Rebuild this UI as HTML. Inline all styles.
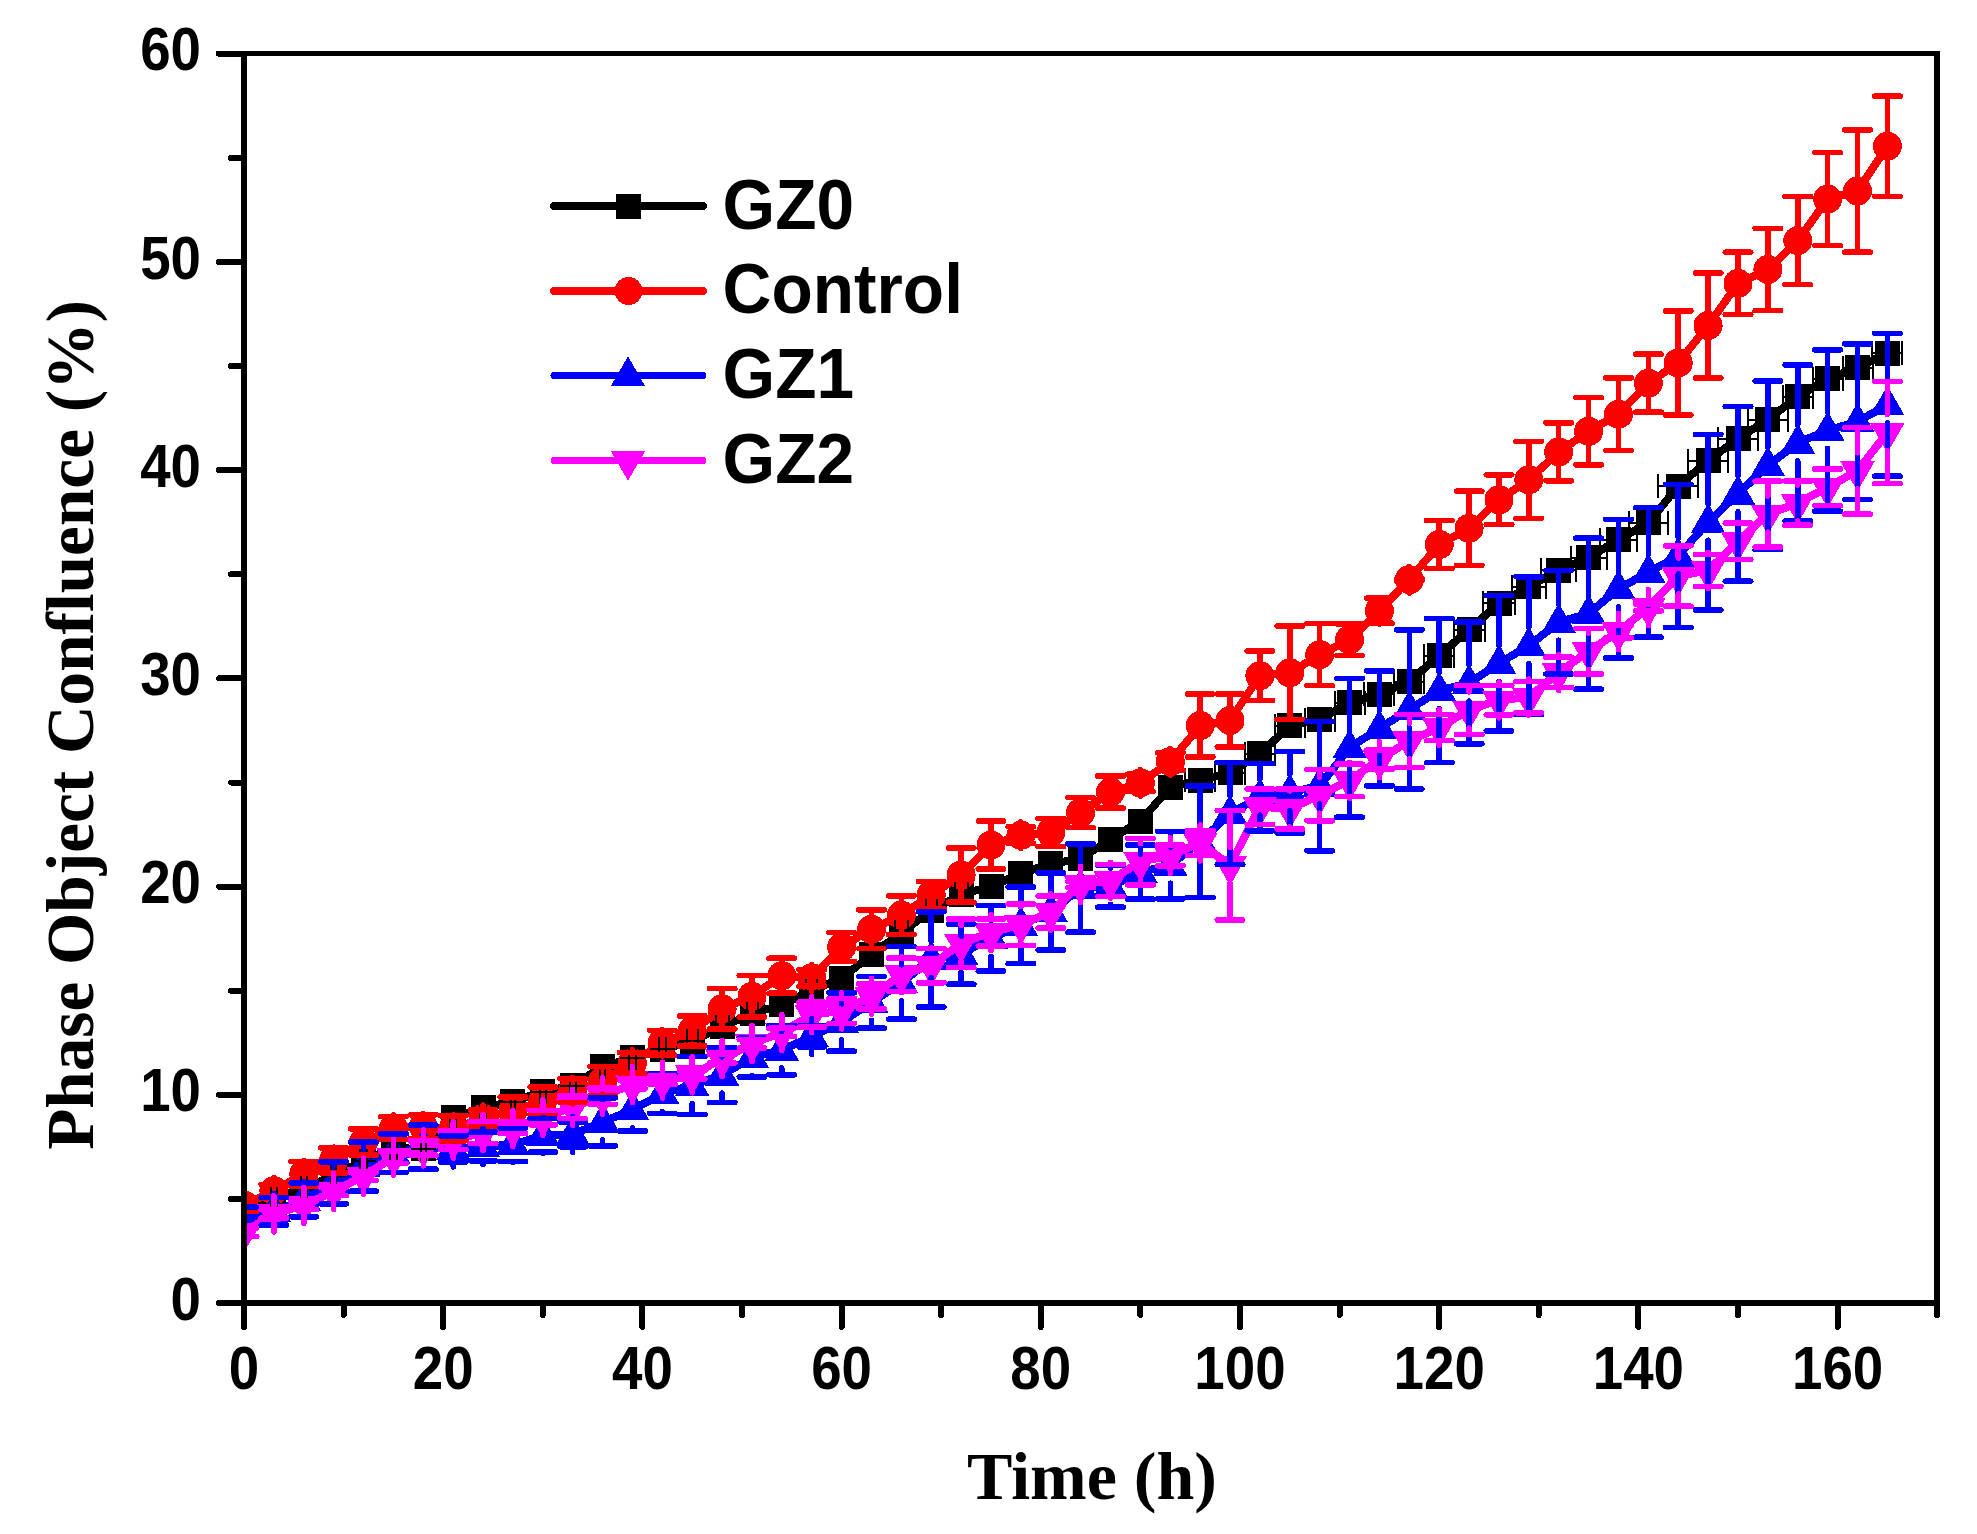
<!DOCTYPE html>
<html lang="en"><head><meta charset="utf-8"><title>Phase Object Confluence vs Time</title>
<style>html,body{margin:0;padding:0;background:#fff}body{width:1977px;height:1534px;overflow:hidden}svg{display:block}.tk{font:bold 60.4px "Liberation Sans",Arial,sans-serif;fill:#000}.lg{font:bold 70px "Liberation Sans",Arial,sans-serif;fill:#000}.ax{font:bold 68px "Liberation Serif","Times New Roman",serif;fill:#000}</style></head><body>
<svg width="1977" height="1534" viewBox="0 0 1977 1534" shape-rendering="crispEdges">
<rect width="1977" height="1534" fill="#fff"/>
<defs><clipPath id="c"><rect x="244" y="54" width="1693.5" height="1249"/></clipPath></defs>
<g clip-path="url(#c)" fill="none" stroke-linejoin="round" stroke-linecap="round">
<path d="M244 1209.3 L273.9 1198.9 L303.8 1188.1 L333.6 1175.8 L363.5 1160.6 L393.4 1148.1 L423.3 1148.9 L453.2 1117.7 L483 1107.7 L512.9 1101.7 L542.8 1091.5 L572.7 1085.6 L602.6 1066.5 L632.4 1057.7 L662.3 1049.4 L692.2 1041.1 L722.1 1026.7 L752 1013.8 L781.8 1004.6 L811.7 990.7 L841.6 978.2 L871.5 954.7 L901.4 932.4 L931.2 910.8 L961.1 894.1 L991 886.6 L1020.9 873.5 L1050.8 863.7 L1080.6 858.9 L1110.5 839.1 L1140.4 821.2 L1170.3 787.1 L1200.2 780.4 L1230 772.9 L1259.9 753.8 L1289.8 725.7 L1319.7 719.6 L1349.6 702.6 L1379.4 694.2 L1409.3 681.5 L1439.2 655.5 L1469.1 629.5 L1499 603.4 L1528.8 586.8 L1558.7 570.1 L1588.6 557.6 L1618.5 539.7 L1648.4 522.7 L1678.2 486.2 L1708.1 460.6 L1738 438.6 L1767.9 419.6 L1797.8 396.5 L1827.6 378.6 L1857.5 367.6 L1887.4 353.2" stroke="#000" stroke-width="8"/>
<path d="M231.5 1196.8h25v25h-25zM261.4 1186.4h25v25h-25zM291.3 1175.6h25v25h-25zM321.1 1163.3h25v25h-25zM351 1148.1h25v25h-25zM380.9 1135.6h25v25h-25zM410.8 1136.4h25v25h-25zM440.7 1105.2h25v25h-25zM470.5 1095.2h25v25h-25zM500.4 1089.2h25v25h-25zM530.3 1079h25v25h-25zM560.2 1073.1h25v25h-25zM590.1 1054h25v25h-25zM619.9 1045.2h25v25h-25zM649.8 1036.9h25v25h-25zM679.7 1028.6h25v25h-25zM709.6 1014.2h25v25h-25zM739.5 1001.3h25v25h-25zM769.3 992.1h25v25h-25zM799.2 978.2h25v25h-25zM829.1 965.7h25v25h-25zM859 942.2h25v25h-25zM888.9 919.9h25v25h-25zM918.7 898.3h25v25h-25zM948.6 881.6h25v25h-25zM978.5 874.1h25v25h-25zM1008.4 861h25v25h-25zM1038.3 851.2h25v25h-25zM1068.1 846.4h25v25h-25zM1098 826.6h25v25h-25zM1127.9 808.7h25v25h-25zM1157.8 774.6h25v25h-25zM1187.7 767.9h25v25h-25zM1217.5 760.4h25v25h-25zM1247.4 741.3h25v25h-25zM1277.3 713.2h25v25h-25zM1307.2 707.1h25v25h-25zM1337.1 690.1h25v25h-25zM1366.9 681.7h25v25h-25zM1396.8 669h25v25h-25zM1426.7 643h25v25h-25zM1456.6 617h25v25h-25zM1486.5 590.9h25v25h-25zM1516.3 574.3h25v25h-25zM1546.2 557.6h25v25h-25zM1576.1 545.1h25v25h-25zM1606 527.2h25v25h-25zM1635.9 510.2h25v25h-25zM1665.7 473.7h25v25h-25zM1695.6 448.1h25v25h-25zM1725.5 426.1h25v25h-25zM1755.4 407.1h25v25h-25zM1785.3 384h25v25h-25zM1815.1 366.1h25v25h-25zM1845 355.1h25v25h-25zM1874.9 340.7h25v25h-25z" fill="#000"/>
<path d="M244 1205.1 L273.9 1190.6 L303.8 1173.9 L333.6 1160.4 L363.5 1142.1 L393.4 1128.1 L423.3 1126.7 L453.2 1128.3 L483 1118.3 L512.9 1111 L542.8 1100.6 L572.7 1090.6 L602.6 1080.9 L632.4 1062.9 L662.3 1042.8 L692.2 1030.9 L722.1 1008.8 L752 996.3 L781.8 975.7 L811.7 977.8 L841.6 947 L871.5 929.3 L901.4 915.1 L931.2 894.9 L961.1 875.1 L991 845 L1020.9 835.2 L1050.8 832.5 L1080.6 812.7 L1110.5 792.1 L1140.4 782.9 L1170.3 761.7 L1200.2 725.5 L1230 720.5 L1259.9 675.7 L1289.8 672.8 L1319.7 654.7 L1349.6 639.7 L1379.4 610.7 L1409.3 579.7 L1439.2 544.5 L1469.1 528.3 L1499 499.8 L1528.8 479.8 L1558.7 451.9 L1588.6 431.3 L1618.5 414.2 L1648.4 383.2 L1678.2 363 L1708.1 325.5 L1738 283.4 L1767.9 269.5 L1797.8 240.6 L1827.6 199.1 L1857.5 191 L1887.4 146.2" stroke="#f00" stroke-width="8"/>
<path d="M229.5 1205.1a14.5 14.5 0 1 0 29.0 0a14.5 14.5 0 1 0 -29.0 0zM259.4 1190.6a14.5 14.5 0 1 0 29.0 0a14.5 14.5 0 1 0 -29.0 0zM289.3 1173.9a14.5 14.5 0 1 0 29.0 0a14.5 14.5 0 1 0 -29.0 0zM319.1 1160.4a14.5 14.5 0 1 0 29.0 0a14.5 14.5 0 1 0 -29.0 0zM349 1142.1a14.5 14.5 0 1 0 29.0 0a14.5 14.5 0 1 0 -29.0 0zM378.9 1128.1a14.5 14.5 0 1 0 29.0 0a14.5 14.5 0 1 0 -29.0 0zM408.8 1126.7a14.5 14.5 0 1 0 29.0 0a14.5 14.5 0 1 0 -29.0 0zM438.7 1128.3a14.5 14.5 0 1 0 29.0 0a14.5 14.5 0 1 0 -29.0 0zM468.5 1118.3a14.5 14.5 0 1 0 29.0 0a14.5 14.5 0 1 0 -29.0 0zM498.4 1111a14.5 14.5 0 1 0 29.0 0a14.5 14.5 0 1 0 -29.0 0zM528.3 1100.6a14.5 14.5 0 1 0 29.0 0a14.5 14.5 0 1 0 -29.0 0zM558.2 1090.6a14.5 14.5 0 1 0 29.0 0a14.5 14.5 0 1 0 -29.0 0zM588.1 1080.9a14.5 14.5 0 1 0 29.0 0a14.5 14.5 0 1 0 -29.0 0zM617.9 1062.9a14.5 14.5 0 1 0 29.0 0a14.5 14.5 0 1 0 -29.0 0zM647.8 1042.8a14.5 14.5 0 1 0 29.0 0a14.5 14.5 0 1 0 -29.0 0zM677.7 1030.9a14.5 14.5 0 1 0 29.0 0a14.5 14.5 0 1 0 -29.0 0zM707.6 1008.8a14.5 14.5 0 1 0 29.0 0a14.5 14.5 0 1 0 -29.0 0zM737.5 996.3a14.5 14.5 0 1 0 29.0 0a14.5 14.5 0 1 0 -29.0 0zM767.3 975.7a14.5 14.5 0 1 0 29.0 0a14.5 14.5 0 1 0 -29.0 0zM797.2 977.8a14.5 14.5 0 1 0 29.0 0a14.5 14.5 0 1 0 -29.0 0zM827.1 947a14.5 14.5 0 1 0 29.0 0a14.5 14.5 0 1 0 -29.0 0zM857 929.3a14.5 14.5 0 1 0 29.0 0a14.5 14.5 0 1 0 -29.0 0zM886.9 915.1a14.5 14.5 0 1 0 29.0 0a14.5 14.5 0 1 0 -29.0 0zM916.7 894.9a14.5 14.5 0 1 0 29.0 0a14.5 14.5 0 1 0 -29.0 0zM946.6 875.1a14.5 14.5 0 1 0 29.0 0a14.5 14.5 0 1 0 -29.0 0zM976.5 845a14.5 14.5 0 1 0 29.0 0a14.5 14.5 0 1 0 -29.0 0zM1006.4 835.2a14.5 14.5 0 1 0 29.0 0a14.5 14.5 0 1 0 -29.0 0zM1036.3 832.5a14.5 14.5 0 1 0 29.0 0a14.5 14.5 0 1 0 -29.0 0zM1066.1 812.7a14.5 14.5 0 1 0 29.0 0a14.5 14.5 0 1 0 -29.0 0zM1096 792.1a14.5 14.5 0 1 0 29.0 0a14.5 14.5 0 1 0 -29.0 0zM1125.9 782.9a14.5 14.5 0 1 0 29.0 0a14.5 14.5 0 1 0 -29.0 0zM1155.8 761.7a14.5 14.5 0 1 0 29.0 0a14.5 14.5 0 1 0 -29.0 0zM1185.7 725.5a14.5 14.5 0 1 0 29.0 0a14.5 14.5 0 1 0 -29.0 0zM1215.5 720.5a14.5 14.5 0 1 0 29.0 0a14.5 14.5 0 1 0 -29.0 0zM1245.4 675.7a14.5 14.5 0 1 0 29.0 0a14.5 14.5 0 1 0 -29.0 0zM1275.3 672.8a14.5 14.5 0 1 0 29.0 0a14.5 14.5 0 1 0 -29.0 0zM1305.2 654.7a14.5 14.5 0 1 0 29.0 0a14.5 14.5 0 1 0 -29.0 0zM1335.1 639.7a14.5 14.5 0 1 0 29.0 0a14.5 14.5 0 1 0 -29.0 0zM1364.9 610.7a14.5 14.5 0 1 0 29.0 0a14.5 14.5 0 1 0 -29.0 0zM1394.8 579.7a14.5 14.5 0 1 0 29.0 0a14.5 14.5 0 1 0 -29.0 0zM1424.7 544.5a14.5 14.5 0 1 0 29.0 0a14.5 14.5 0 1 0 -29.0 0zM1454.6 528.3a14.5 14.5 0 1 0 29.0 0a14.5 14.5 0 1 0 -29.0 0zM1484.5 499.8a14.5 14.5 0 1 0 29.0 0a14.5 14.5 0 1 0 -29.0 0zM1514.3 479.8a14.5 14.5 0 1 0 29.0 0a14.5 14.5 0 1 0 -29.0 0zM1544.2 451.9a14.5 14.5 0 1 0 29.0 0a14.5 14.5 0 1 0 -29.0 0zM1574.1 431.3a14.5 14.5 0 1 0 29.0 0a14.5 14.5 0 1 0 -29.0 0zM1604 414.2a14.5 14.5 0 1 0 29.0 0a14.5 14.5 0 1 0 -29.0 0zM1633.9 383.2a14.5 14.5 0 1 0 29.0 0a14.5 14.5 0 1 0 -29.0 0zM1663.7 363a14.5 14.5 0 1 0 29.0 0a14.5 14.5 0 1 0 -29.0 0zM1693.6 325.5a14.5 14.5 0 1 0 29.0 0a14.5 14.5 0 1 0 -29.0 0zM1723.5 283.4a14.5 14.5 0 1 0 29.0 0a14.5 14.5 0 1 0 -29.0 0zM1753.4 269.5a14.5 14.5 0 1 0 29.0 0a14.5 14.5 0 1 0 -29.0 0zM1783.3 240.6a14.5 14.5 0 1 0 29.0 0a14.5 14.5 0 1 0 -29.0 0zM1813.1 199.1a14.5 14.5 0 1 0 29.0 0a14.5 14.5 0 1 0 -29.0 0zM1843 191a14.5 14.5 0 1 0 29.0 0a14.5 14.5 0 1 0 -29.0 0zM1872.9 146.2a14.5 14.5 0 1 0 29.0 0a14.5 14.5 0 1 0 -29.0 0z" fill="#f00"/>
<path d="M244 1217.6 L273.9 1211.4 L303.8 1199.9 L333.6 1182.9 L363.5 1166.6 L393.4 1153.3 L423.3 1147.1 L453.2 1148.9 L483 1146.4 L512.9 1144.8 L542.8 1135.4 L572.7 1134.4 L602.6 1121.9 L632.4 1109.8 L662.3 1093.6 L692.2 1085.4 L722.1 1075 L752 1057.3 L781.8 1050 L811.7 1036.5 L841.6 1021.9 L871.5 1002.4 L901.4 982.8 L931.2 959.5 L961.1 954.1 L991 938.2 L1020.9 925.3 L1050.8 911.6 L1080.6 888.1 L1110.5 886.4 L1140.4 872 L1170.3 865.2 L1200.2 841.8 L1230 813.5 L1259.9 797.1 L1289.8 792.3 L1319.7 786 L1349.6 747.7 L1379.4 728.4 L1409.3 709.4 L1439.2 690.7 L1469.1 683 L1499 663.2 L1528.8 645.7 L1558.7 622.2 L1588.6 613.6 L1618.5 588.7 L1648.4 572.4 L1678.2 556 L1708.1 522.2 L1738 493.9 L1767.9 465.4 L1797.8 442.9 L1827.6 430.4 L1857.5 421.7 L1887.4 404.8" stroke="#00f" stroke-width="8"/>
<path d="M244 1198.4L261.2 1228.2L226.8 1228.2zM273.9 1192.2L291.1 1222L256.7 1222zM303.8 1180.7L321 1210.5L286.6 1210.5zM333.6 1163.7L350.8 1193.5L316.4 1193.5zM363.5 1147.4L380.7 1177.2L346.3 1177.2zM393.4 1134.1L410.6 1163.9L376.2 1163.9zM423.3 1127.9L440.5 1157.7L406.1 1157.7zM453.2 1129.7L470.4 1159.5L436 1159.5zM483 1127.2L500.2 1157L465.8 1157zM512.9 1125.6L530.1 1155.4L495.7 1155.4zM542.8 1116.2L560 1146L525.6 1146zM572.7 1115.2L589.9 1145L555.5 1145zM602.6 1102.7L619.8 1132.5L585.4 1132.5zM632.4 1090.6L649.6 1120.4L615.2 1120.4zM662.3 1074.4L679.5 1104.2L645.1 1104.2zM692.2 1066.2L709.4 1096L675 1096zM722.1 1055.8L739.3 1085.6L704.9 1085.6zM752 1038.1L769.2 1067.9L734.8 1067.9zM781.8 1030.8L799 1060.6L764.6 1060.6zM811.7 1017.3L828.9 1047.1L794.5 1047.1zM841.6 1002.7L858.8 1032.5L824.4 1032.5zM871.5 983.2L888.7 1013L854.3 1013zM901.4 963.6L918.6 993.4L884.2 993.4zM931.2 940.3L948.4 970.1L914 970.1zM961.1 934.9L978.3 964.7L943.9 964.7zM991 919L1008.2 948.8L973.8 948.8zM1020.9 906.1L1038.1 935.9L1003.7 935.9zM1050.8 892.4L1068 922.2L1033.6 922.2zM1080.6 868.9L1097.8 898.7L1063.4 898.7zM1110.5 867.2L1127.7 897L1093.3 897zM1140.4 852.8L1157.6 882.6L1123.2 882.6zM1170.3 846L1187.5 875.8L1153.1 875.8zM1200.2 822.6L1217.4 852.4L1183 852.4zM1230 794.3L1247.2 824.1L1212.8 824.1zM1259.9 777.9L1277.1 807.7L1242.7 807.7zM1289.8 773.1L1307 802.9L1272.6 802.9zM1319.7 766.8L1336.9 796.6L1302.5 796.6zM1349.6 728.5L1366.8 758.3L1332.4 758.3zM1379.4 709.2L1396.6 739L1362.2 739zM1409.3 690.2L1426.5 720L1392.1 720zM1439.2 671.5L1456.4 701.3L1422 701.3zM1469.1 663.8L1486.3 693.6L1451.9 693.6zM1499 644L1516.2 673.8L1481.8 673.8zM1528.8 626.5L1546 656.3L1511.6 656.3zM1558.7 603L1575.9 632.8L1541.5 632.8zM1588.6 594.4L1605.8 624.2L1571.4 624.2zM1618.5 569.5L1635.7 599.3L1601.3 599.3zM1648.4 553.2L1665.6 583L1631.2 583zM1678.2 536.8L1695.4 566.6L1661 566.6zM1708.1 503.1L1725.3 532.9L1690.9 532.9zM1738 474.7L1755.2 504.5L1720.8 504.5zM1767.9 446.2L1785.1 476L1750.7 476zM1797.8 423.7L1815 453.5L1780.6 453.5zM1827.6 411.2L1844.8 441L1810.4 441zM1857.5 402.5L1874.7 432.3L1840.3 432.3zM1887.4 385.6L1904.6 415.4L1870.2 415.4z" fill="#00f"/>
<path d="M244 1232.2 L273.9 1213.9 L303.8 1205.4 L333.6 1191.4 L363.5 1176.2 L393.4 1157.3 L423.3 1147.9 L453.2 1140 L483 1132.5 L512.9 1128.5 L542.8 1117.7 L572.7 1107.3 L602.6 1096 L632.4 1084.6 L662.3 1080.2 L692.2 1074.8 L722.1 1058.8 L752 1043.8 L781.8 1032.3 L811.7 1014.6 L841.6 1010.9 L871.5 996.3 L901.4 974.7 L931.2 965.7 L961.1 943.2 L991 932.4 L1020.9 924.7 L1050.8 912 L1080.6 884.5 L1110.5 880.4 L1140.4 861.6 L1170.3 855.4 L1200.2 842.9 L1230 865.2 L1259.9 806.7 L1289.8 808.9 L1319.7 795.2 L1349.6 780.4 L1379.4 759.6 L1409.3 740.9 L1439.2 727.5 L1469.1 710 L1499 700.1 L1528.8 697.1 L1558.7 672.4 L1588.6 651.3 L1618.5 631.6 L1648.4 607.6 L1678.2 576 L1708.1 570.3 L1738 541.4 L1767.9 514.1 L1797.8 503.1 L1827.6 487.3 L1857.5 470.8 L1887.4 432.5" stroke="#f0f" stroke-width="8"/>
<path d="M226.8 1222.7L261.2 1222.7L244 1252.6zM256.7 1204.4L291.1 1204.4L273.9 1234.3zM286.6 1195.9L321 1195.9L303.8 1225.8zM316.4 1181.9L350.8 1181.9L333.6 1211.8zM346.3 1166.7L380.7 1166.7L363.5 1196.6zM376.2 1147.8L410.6 1147.8L393.4 1177.7zM406.1 1138.4L440.5 1138.4L423.3 1168.3zM436 1130.5L470.4 1130.5L453.2 1160.4zM465.8 1123L500.2 1123L483 1152.9zM495.7 1119L530.1 1119L512.9 1148.9zM525.6 1108.2L560 1108.2L542.8 1138.1zM555.5 1097.8L589.9 1097.8L572.7 1127.7zM585.4 1086.5L619.8 1086.5L602.6 1116.4zM615.2 1075.1L649.6 1075.1L632.4 1105zM645.1 1070.7L679.5 1070.7L662.3 1100.6zM675 1065.3L709.4 1065.3L692.2 1095.2zM704.9 1049.3L739.3 1049.3L722.1 1079.2zM734.8 1034.3L769.2 1034.3L752 1064.2zM764.6 1022.8L799 1022.8L781.8 1052.7zM794.5 1005.1L828.9 1005.1L811.7 1035zM824.4 1001.4L858.8 1001.4L841.6 1031.3zM854.3 986.8L888.7 986.8L871.5 1016.7zM884.2 965.2L918.6 965.2L901.4 995.1zM914 956.2L948.4 956.2L931.2 986.1zM943.9 933.7L978.3 933.7L961.1 963.6zM973.8 922.9L1008.2 922.9L991 952.8zM1003.7 915.2L1038.1 915.2L1020.9 945.1zM1033.6 902.5L1068 902.5L1050.8 932.4zM1063.4 875L1097.8 875L1080.6 904.9zM1093.3 870.9L1127.7 870.9L1110.5 900.8zM1123.2 852.1L1157.6 852.1L1140.4 882zM1153.1 845.9L1187.5 845.9L1170.3 875.8zM1183 833.4L1217.4 833.4L1200.2 863.3zM1212.8 855.7L1247.2 855.7L1230 885.6zM1242.7 797.2L1277.1 797.2L1259.9 827.1zM1272.6 799.4L1307 799.4L1289.8 829.3zM1302.5 785.7L1336.9 785.7L1319.7 815.6zM1332.4 770.9L1366.8 770.9L1349.6 800.8zM1362.2 750.1L1396.6 750.1L1379.4 780zM1392.1 731.4L1426.5 731.4L1409.3 761.3zM1422 718L1456.4 718L1439.2 747.9zM1451.9 700.5L1486.3 700.5L1469.1 730.4zM1481.8 690.6L1516.2 690.6L1499 720.5zM1511.6 687.6L1546 687.6L1528.8 717.5zM1541.5 662.9L1575.9 662.9L1558.7 692.8zM1571.4 641.8L1605.8 641.8L1588.6 671.7zM1601.3 622.1L1635.7 622.1L1618.5 652zM1631.2 598.1L1665.6 598.1L1648.4 628zM1661 566.5L1695.4 566.5L1678.2 596.4zM1690.9 560.8L1725.3 560.8L1708.1 590.7zM1720.8 531.9L1755.2 531.9L1738 561.8zM1750.7 504.6L1785.1 504.6L1767.9 534.5zM1780.6 493.6L1815 493.6L1797.8 523.5zM1810.4 477.8L1844.8 477.8L1827.6 507.7zM1840.3 461.3L1874.7 461.3L1857.5 491.2zM1870.2 423L1904.6 423L1887.4 452.9z" fill="#f0f"/>
<path d="M231.5 1209.3h25M241.8 1197.3v24M246.2 1197.3v24M261.4 1198.9h25M270.7 1186.9v24M277.1 1186.9v24M291.3 1188.1h25M300.6 1176.1v24M307 1176.1v24M321.1 1175.8h25M331.4 1163.8v24M335.8 1163.8v24M351 1160.6h25M360.3 1148.6v24M366.7 1148.6v24M380.9 1148.1h25M390.2 1136.1v24M396.6 1136.1v24M410.8 1148.9h25M421.1 1136.9v24M425.5 1136.9v24M440.7 1117.7h25M450 1105.7v24M456.4 1105.7v24M470.5 1107.7h25M479.8 1095.7v24M486.2 1095.7v24M500.4 1101.7h25M510.7 1089.7v24M515.1 1089.7v24M530.3 1091.5h25M539.6 1079.5v24M546 1079.5v24M560.2 1085.6h25M569.5 1073.6v24M575.9 1073.6v24M590.1 1066.5h25M600.4 1054.5v24M604.8 1054.5v24M619.9 1057.7h25M629.2 1045.7v24M635.6 1045.7v24M649.8 1049.4h25M659.1 1037.4v24M665.5 1037.4v24M679.7 1041.1h25M686.7 1029.1v24M697.7 1029.1v24M709.6 1026.7h25M715.7 1014.7v24M728.5 1014.7v24M739.5 1013.8h25M746.5 1001.8v24M757.5 1001.8v24M769.3 1004.6h25M775.4 992.6v24M788.2 992.6v24M799.2 990.7h25M806.2 978.7v24M817.2 978.7v24M829.1 978.2h25M835.2 966.2v24M848 966.2v24M859 954.7h25M866 942.7v24M877 942.7v24M888.9 932.4h25M895 920.4v24M907.8 920.4v24M918.7 910.8h25M925.7 898.8v24M936.7 898.8v24M948.6 894.1h25M954.7 882.1v24M967.5 882.1v24M978.5 886.6h25M985.5 874.6v24M996.5 874.6v24M1008.4 873.5h25M1014.5 861.5v24M1027.3 861.5v24M1038.3 863.7h25M1045.3 851.7v24M1056.3 851.7v24M1068.1 858.9h25M1074.2 846.9v24M1087 846.9v24M1098 839.1h25M1105 827.1v24M1116 827.1v24M1127.9 821.2h25M1134 809.2v24M1146.8 809.2v24M1157.8 787.1h25M1164.8 775.1v24M1175.8 775.1v24M1185.2 780.4h30M1185.2 768.4v24M1215.2 768.4v24M1215 772.9h30M1215 760.9v24M1245 760.9v24M1244.9 753.8h30M1244.9 741.8v24M1274.9 741.8v24M1274.8 725.7h30M1274.8 713.7v24M1304.8 713.7v24M1304.7 719.6h30M1304.7 707.6v24M1334.7 707.6v24M1334.6 702.6h30M1334.6 690.6v24M1364.6 690.6v24M1364.4 694.2h30M1364.4 682.2v24M1394.4 682.2v24M1394.3 681.5h30M1394.3 669.5v24M1424.3 669.5v24M1424.2 655.5h30M1424.2 643.5v24M1454.2 643.5v24M1453.5 629.5h31.2M1453.5 617.5v24M1484.7 617.5v24M1482.7 603.4h32.5M1482.7 591.4v24M1515.2 591.4v24M1512 586.8h33.8M1512 574.8v24M1545.7 574.8v24M1541.2 570.1h35M1541.2 558.1v24M1576.2 558.1v24M1570.5 557.6h36.2M1570.5 545.6v24M1606.7 545.6v24M1599.7 539.7h37.5M1599.7 527.7v24M1637.2 527.7v24M1629 522.7h38.8M1629 510.7v24M1667.7 510.7v24M1658.2 486.2h40M1658.2 474.2v24M1698.2 474.2v24M1688.1 460.6h40M1688.1 448.6v24M1728.1 448.6v24M1718 438.6h40M1718 426.6v24M1758 426.6v24M1747.9 419.6h40M1747.9 407.6v24M1787.9 407.6v24M1782.8 396.5h30M1782.8 384.5v24M1812.8 384.5v24M1812.6 378.6h30M1812.6 366.6v24M1842.6 366.6v24M1842.5 367.6h30M1842.5 355.6v24M1872.5 355.6v24M1872.4 353.2h30M1872.4 341.2v24M1902.4 341.2v24" stroke="#000" stroke-width="2" stroke-linecap="butt"/>
<path d="M231.2 1198.9h25.6M231.2 1211.4h25.6M244 1198.9V1191.8M244 1218.4V1211.4M261.1 1184.3h25.6M261.1 1196.8h25.6M273.9 1184.3V1177.3M273.9 1203.9V1196.8M291 1161.4h25.6M291 1186.4h25.6M303.8 1161.4V1160.6M303.8 1187.2V1186.4M320.8 1147.9h25.6M320.8 1172.9h25.6M333.6 1147.9V1147.1M333.6 1173.7V1172.9M350.7 1128.9h25.6M350.7 1155.2h25.6M380.6 1116.7h25.6M380.6 1139.6h25.6M393.4 1116.7V1114.8M393.4 1141.4V1139.6M410.5 1114.8h25.6M410.5 1138.5h25.6M423.3 1114.8V1113.4M423.3 1140V1138.5M440.4 1115.8h25.6M440.4 1140.8h25.6M453.2 1115.8V1115M453.2 1141.6V1140.8M470.2 1110h25.6M470.2 1126.7h25.6M483 1110V1105M483 1131.6V1126.7M500.1 1096.9h25.6M500.1 1125.2h25.6M512.9 1096.9V1097.7M512.9 1124.3V1125.2M530 1087.1h25.6M530 1114.2h25.6M559.9 1078.8h25.6M559.9 1102.5h25.6M572.7 1078.8V1077.3M572.7 1103.9V1102.5M589.8 1066.3h25.6M589.8 1095.4h25.6M602.6 1066.3V1067.6M602.6 1094.2V1095.4M619.6 1052.5h25.6M619.6 1073.4h25.6M632.4 1052.5V1049.6M632.4 1076.2V1073.4M649.5 1030.3h25.6M649.5 1055.2h25.6M662.3 1030.3V1029.5M662.3 1056V1055.2M679.4 1015.9h25.6M679.4 1045.9h25.6M692.2 1015.9V1017.6M692.2 1044.2V1045.9M709.3 988.6h25.6M709.3 1029h25.6M722.1 988.6V995.5M722.1 1022.1V1029M739.2 975.5h25.6M739.2 1017.1h25.6M752 975.5V983M752 1009.6V1017.1M769 958.2h25.6M769 993.2h25.6M781.8 958.2V962.4M781.8 989V993.2M798.9 969.5h25.6M798.9 986.1h25.6M811.7 969.5V964.5M811.7 991.1V986.1M828.8 932.6h25.6M828.8 961.3h25.6M841.6 932.6V933.7M841.6 960.3V961.3M858.7 909.9h25.6M858.7 948.6h25.6M871.5 909.9V916M871.5 942.6V948.6M888.6 895.8h25.6M888.6 934.5h25.6M901.4 895.8V901.8M901.4 928.4V934.5M918.4 881.4h25.6M918.4 908.5h25.6M948.3 848.1h25.6M948.3 902.2h25.6M961.1 848.1V861.8M961.1 888.4V902.2M978.2 821h25.6M978.2 868.9h25.6M991 821V831.7M991 858.3V868.9M1008.1 826.8h25.6M1008.1 843.5h25.6M1020.9 826.8V821.9M1020.9 848.5V843.5M1038 818.3h25.6M1038 846.6h25.6M1050.8 818.3V819.2M1050.8 845.8V846.6M1067.8 797.7h25.6M1067.8 827.7h25.6M1080.6 797.7V799.4M1080.6 826V827.7M1097.7 776h25.6M1097.7 808.1h25.6M1110.5 776V778.8M1110.5 805.4V808.1M1127.6 774.2h25.6M1127.6 791.7h25.6M1140.4 774.2V769.6M1140.4 796.2V791.7M1157.5 752.9h25.6M1157.5 770.4h25.6M1170.3 752.9V748.4M1170.3 775V770.4M1187.4 694h25.6M1187.4 756.9h25.6M1200.2 694V712.2M1200.2 738.8V756.9M1217.2 694h25.6M1217.2 746.9h25.6M1230 694V707.2M1230 733.8V746.9M1247.1 651.1h25.6M1247.1 700.3h25.6M1259.9 651.1V662.4M1259.9 689V700.3M1277 626.1h25.6M1277 719.4h25.6M1289.8 626.1V659.5M1289.8 686.1V719.4M1306.9 623.6h25.6M1306.9 685.7h25.6M1319.7 623.6V641.4M1319.7 668V685.7M1336.8 623.9h25.6M1336.8 655.5h25.6M1349.6 623.9V626.4M1349.6 653V655.5M1366.6 598.2h25.6M1366.6 623.2h25.6M1379.4 598.2V597.4M1379.4 624V623.2M1396.5 578.7h25.6M1396.5 580.8h25.6M1409.3 578.7V566.4M1409.3 593V580.8M1426.4 520.6h25.6M1426.4 568.5h25.6M1439.2 520.6V531.2M1439.2 557.8V568.5M1456.3 491.2h25.6M1456.3 565.3h25.6M1469.1 491.2V515M1469.1 541.6V565.3M1486.2 474.8h25.6M1486.2 524.7h25.6M1499 474.8V486.5M1499 513.1V524.7M1516 441.3h25.6M1516 518.3h25.6M1528.8 441.3V466.5M1528.8 493.1V518.3M1545.9 422.9h25.6M1545.9 480.8h25.6M1558.7 422.9V438.6M1558.7 465.2V480.8M1575.8 397.7h25.6M1575.8 464.8h25.6M1588.6 397.7V418M1588.6 444.6V464.8M1605.7 377.8h25.6M1605.7 450.6h25.6M1618.5 377.8V400.9M1618.5 427.5V450.6M1635.6 354.2h25.6M1635.6 412.1h25.6M1648.4 354.2V369.9M1648.4 396.5V412.1M1665.4 310.9h25.6M1665.4 415h25.6M1678.2 310.9V349.7M1678.2 376.3V415M1695.3 273h25.6M1695.3 378h25.6M1708.1 273V312.2M1708.1 338.8V378M1725.2 252.2h25.6M1725.2 314.7h25.6M1738 252.2V270.1M1738 296.7V314.7M1755.1 228.3h25.6M1755.1 310.7h25.6M1767.9 228.3V256.2M1767.9 282.8V310.7M1785 196.4h25.6M1785 284.7h25.6M1797.8 196.4V227.3M1797.8 253.9V284.7M1814.8 152.7h25.6M1814.8 245.6h25.6M1827.6 152.7V185.8M1827.6 212.4V245.6M1844.7 129.8h25.6M1844.7 252.2h25.6M1857.5 129.8V177.7M1857.5 204.3V252.2M1874.6 96.1h25.6M1874.6 196.4h25.6M1887.4 96.1V132.9M1887.4 159.5V196.4" stroke="#f00" stroke-width="5.5"/>
<path d="M231.2 1207.2h25.6M231.2 1228h25.6M244 1207.2V1199.6M244 1235.6V1228M261.1 1197.7h25.6M261.1 1225.1h25.6M273.9 1197.7V1193.4M273.9 1229.4V1225.1M291 1183.1h25.6M291 1216.8h25.6M303.8 1183.1V1181.9M303.8 1217.9V1216.8M320.8 1161.8h25.6M320.8 1203.9h25.6M333.6 1161.8V1164.9M333.6 1200.9V1203.9M350.7 1142.1h25.6M350.7 1191.2h25.6M363.5 1142.1V1148.6M363.5 1184.6V1191.2M380.6 1133.9h25.6M380.6 1172.7h25.6M393.4 1133.9V1135.3M393.4 1171.3V1172.7M410.5 1125h25.6M410.5 1169.1h25.6M423.3 1125V1129.1M423.3 1165.1V1169.1M440.4 1135.8h25.6M440.4 1162h25.6M453.2 1135.8V1130.9M453.2 1166.9V1162M470.2 1132.1h25.6M470.2 1160.8h25.6M483 1132.1V1128.4M483 1164.4V1160.8M500.1 1128.1h25.6M500.1 1161.4h25.6M512.9 1128.1V1126.8M512.9 1162.8V1161.4M530 1118.7h25.6M530 1152.1h25.6M542.8 1118.7V1117.4M542.8 1153.4V1152.1M559.9 1121.9h25.6M559.9 1146.8h25.6M572.7 1121.9V1116.4M572.7 1152.4V1146.8M589.8 1097.9h25.6M589.8 1145.8h25.6M602.6 1097.9V1103.9M602.6 1139.9V1145.8M619.6 1088.6h25.6M619.6 1131h25.6M632.4 1088.6V1091.8M632.4 1127.8V1131M649.5 1073.8h25.6M649.5 1113.3h25.6M662.3 1073.8V1075.6M662.3 1111.6V1113.3M679.4 1056.5h25.6M679.4 1114.4h25.6M692.2 1056.5V1067.4M692.2 1103.4V1114.4M709.3 1047.7h25.6M709.3 1102.3h25.6M722.1 1047.7V1057M722.1 1093V1102.3M739.2 1037.8h25.6M739.2 1076.9h25.6M752 1037.8V1039.3M752 1075.3V1076.9M769 1025.3h25.6M769 1074.8h25.6M781.8 1025.3V1032M781.8 1068V1074.8M798.9 1026.1h25.6M798.9 1046.9h25.6M811.7 1026.1V1018.5M811.7 1054.5V1046.9M828.8 992.8h25.6M828.8 1051.1h25.6M841.6 992.8V1003.9M841.6 1039.9V1051.1M858.7 976.5h25.6M858.7 1028.2h25.6M871.5 976.5V984.4M871.5 1020.4V1028.2M888.6 946.6h25.6M888.6 1019h25.6M901.4 946.6V964.8M901.4 1000.8V1019M918.4 911.8h25.6M918.4 1007.1h25.6M931.2 911.8V941.5M931.2 977.5V1007.1M948.3 923.9h25.6M948.3 984.2h25.6M961.1 923.9V936.1M961.1 972.1V984.2M978.2 905.3h25.6M978.2 971.1h25.6M991 905.3V920.2M991 956.2V971.1M1008.1 887h25.6M1008.1 963.6h25.6M1020.9 887V907.3M1020.9 943.3V963.6M1038 873.1h25.6M1038 950.1h25.6M1050.8 873.1V893.6M1050.8 929.6V950.1M1067.8 843.9h25.6M1067.8 932.2h25.6M1080.6 843.9V870.1M1080.6 906.1V932.2M1097.7 865.6h25.6M1097.7 907.2h25.6M1110.5 865.6V868.4M1110.5 904.4V907.2M1127.6 845h25.6M1127.6 899.1h25.6M1140.4 845V854M1140.4 890V899.1M1157.5 831.4h25.6M1157.5 898.9h25.6M1170.3 831.4V847.2M1170.3 883.2V898.9M1187.4 786h25.6M1187.4 897.6h25.6M1200.2 786V823.8M1200.2 859.8V897.6M1217.2 762.5h25.6M1217.2 864.5h25.6M1230 762.5V795.5M1230 831.5V864.5M1247.1 763.3h25.6M1247.1 830.8h25.6M1259.9 763.3V779.1M1259.9 815.1V830.8M1277 751.5h25.6M1277 833.1h25.6M1289.8 751.5V774.3M1289.8 810.3V833.1M1306.9 721.3h25.6M1306.9 850.8h25.6M1319.7 721.3V768M1319.7 804V850.8M1336.8 678.4h25.6M1336.8 817.1h25.6M1349.6 678.4V729.7M1349.6 765.7V817.1M1366.6 670.9h25.6M1366.6 785.8h25.6M1379.4 670.9V710.4M1379.4 746.4V785.8M1396.5 629.9h25.6M1396.5 789h25.6M1409.3 629.9V691.4M1409.3 727.4V789M1426.4 618.6h25.6M1426.4 762.7h25.6M1439.2 618.6V672.7M1439.2 708.7V762.7M1456.3 622.2h25.6M1456.3 743.8h25.6M1469.1 622.2V665M1469.1 701V743.8M1486.2 595.5h25.6M1486.2 730.9h25.6M1499 595.5V645.2M1499 681.2V730.9M1516 576.8h25.6M1516 714.6h25.6M1528.8 576.8V627.7M1528.8 663.7V714.6M1545.9 570.3h25.6M1545.9 674h25.6M1558.7 570.3V604.2M1558.7 640.2V674M1575.8 538.1h25.6M1575.8 689.2h25.6M1588.6 538.1V595.6M1588.6 631.6V689.2M1605.7 519.3h25.6M1605.7 658h25.6M1618.5 519.3V570.7M1618.5 606.7V658M1635.6 507.7h25.6M1635.6 637.2h25.6M1648.4 507.7V554.4M1648.4 590.4V637.2M1665.4 484.6h25.6M1665.4 627.4h25.6M1678.2 484.6V538M1678.2 574V627.4M1695.3 434.4h25.6M1695.3 610.1h25.6M1708.1 434.4V504.2M1708.1 540.2V610.1M1725.2 406.7h25.6M1725.2 581.2h25.6M1738 406.7V475.9M1738 511.9V581.2M1755.1 381.1h25.6M1755.1 549.7h25.6M1767.9 381.1V447.4M1767.9 483.4V549.7M1785 364.9h25.6M1785 521h25.6M1797.8 364.9V424.9M1797.8 460.9V521M1814.8 349.9h25.6M1814.8 511h25.6M1827.6 349.9V412.4M1827.6 448.4V511M1844.7 343.8h25.6M1844.7 499.6h25.6M1857.5 343.8V403.7M1857.5 439.7V499.6M1874.6 333.4h25.6M1874.6 476.2h25.6M1887.4 333.4V386.8M1887.4 422.8V476.2" stroke="#00f" stroke-width="5.5"/>
<path d="M231.2 1228h25.6M231.2 1236.4h25.6M244 1228V1214.2M244 1250.2V1236.4M261.1 1209.7h25.6M261.1 1218.1h25.6M273.9 1209.7V1195.9M273.9 1231.9V1218.1M291 1201.2h25.6M291 1209.5h25.6M303.8 1201.2V1187.4M303.8 1223.4V1209.5M320.8 1187.2h25.6M320.8 1195.6h25.6M333.6 1187.2V1173.4M333.6 1209.4V1195.6M350.7 1172h25.6M350.7 1180.4h25.6M363.5 1172V1158.2M363.5 1194.2V1180.4M380.6 1151h25.6M380.6 1163.5h25.6M393.4 1151V1139.3M393.4 1175.3V1163.5M410.5 1140.6h25.6M410.5 1155.2h25.6M423.3 1140.6V1129.9M423.3 1165.9V1155.2M440.4 1130.4h25.6M440.4 1149.6h25.6M453.2 1130.4V1122M453.2 1158V1149.6M470.2 1121.4h25.6M470.2 1143.5h25.6M483 1121.4V1114.5M483 1150.5V1143.5M500.1 1123.7h25.6M500.1 1133.3h25.6M512.9 1123.7V1110.5M512.9 1146.5V1133.3M530 1110.6h25.6M530 1124.8h25.6M542.8 1110.6V1099.7M542.8 1135.7V1124.8M559.9 1095.8h25.6M559.9 1118.7h25.6M572.7 1095.8V1089.3M572.7 1125.3V1118.7M589.8 1087.7h25.6M589.8 1104.4h25.6M602.6 1087.7V1078M602.6 1114V1104.4M619.6 1080.4h25.6M619.6 1088.8h25.6M632.4 1080.4V1066.6M632.4 1102.6V1088.8M649.5 1076.1h25.6M649.5 1084.4h25.6M662.3 1076.1V1062.2M662.3 1098.2V1084.4M679.4 1070.6h25.6M679.4 1079h25.6M692.2 1070.6V1056.8M692.2 1092.8V1079M709.3 1054.6h25.6M709.3 1062.9h25.6M722.1 1054.6V1040.8M722.1 1076.8V1062.9M739.2 1039.6h25.6M739.2 1048h25.6M752 1039.6V1025.8M752 1061.8V1048M769 1028.2h25.6M769 1036.5h25.6M781.8 1028.2V1014.3M781.8 1050.3V1036.5M798.9 1002.2h25.6M798.9 1027.1h25.6M811.7 1002.2V996.6M811.7 1032.6V1027.1M828.8 998.4h25.6M828.8 1023.4h25.6M841.6 998.4V992.9M841.6 1028.9V1023.4M858.7 983.8h25.6M858.7 1008.8h25.6M871.5 983.8V978.3M871.5 1014.3V1008.8M888.6 958h25.6M888.6 991.3h25.6M901.4 958V956.7M901.4 992.7V991.3M918.4 948.6h25.6M918.4 982.8h25.6M931.2 948.6V947.7M931.2 983.7V982.8M948.3 918.9h25.6M948.3 967.6h25.6M961.1 918.9V925.2M961.1 961.2V967.6M978.2 918.9h25.6M978.2 945.9h25.6M991 918.9V914.4M991 950.4V945.9M1008.1 903.9h25.6M1008.1 945.5h25.6M1020.9 903.9V906.7M1020.9 942.7V945.5M1038 896h25.6M1038 928h25.6M1050.8 896V894M1050.8 930V928M1067.8 881.4h25.6M1067.8 887.6h25.6M1080.6 881.4V866.5M1080.6 902.5V887.6M1097.7 864.3h25.6M1097.7 896.4h25.6M1110.5 864.3V862.4M1110.5 898.4V896.4M1127.6 838.3h25.6M1127.6 884.9h25.6M1140.4 838.3V843.6M1140.4 879.6V884.9M1157.5 845h25.6M1157.5 865.8h25.6M1170.3 845V837.4M1170.3 873.4V865.8M1187.4 830.4h25.6M1187.4 855.4h25.6M1200.2 830.4V824.9M1200.2 860.9V855.4M1217.2 810.4h25.6M1217.2 919.9h25.6M1230 810.4V847.2M1230 883.2V919.9M1247.1 789h25.6M1247.1 824.3h25.6M1259.9 789V788.7M1259.9 824.7V824.3M1277 789h25.6M1277 828.9h25.6M1289.8 789V790.9M1289.8 826.9V828.9M1306.9 769.6h25.6M1306.9 820.8h25.6M1319.7 769.6V777.2M1319.7 813.2V820.8M1336.8 764.2h25.6M1336.8 796.7h25.6M1349.6 764.2V762.4M1349.6 798.4V796.7M1366.6 750.2h25.6M1366.6 769h25.6M1379.4 750.2V741.6M1379.4 777.6V769M1396.5 714.4h25.6M1396.5 767.3h25.6M1409.3 714.4V722.9M1409.3 758.9V767.3M1426.4 714.4h25.6M1426.4 740.7h25.6M1439.2 714.4V709.5M1439.2 745.5V740.7M1456.3 685.5h25.6M1456.3 734.6h25.6M1469.1 685.5V692M1469.1 728V734.6M1486.2 685.3h25.6M1486.2 714.8h25.6M1499 685.3V682.1M1499 718.1V714.8M1516 681.5h25.6M1516 712.8h25.6M1528.8 681.5V679.1M1528.8 715.1V712.8M1545.9 657.2h25.6M1545.9 687.6h25.6M1558.7 657.2V654.4M1558.7 690.4V687.6M1575.8 628.6h25.6M1575.8 674h25.6M1588.6 628.6V633.3M1588.6 669.3V674M1605.7 625.3h25.6M1605.7 637.8h25.6M1618.5 625.3V613.6M1618.5 649.6V637.8M1635.6 604.3h25.6M1635.6 610.9h25.6M1648.4 604.3V589.6M1648.4 625.6V610.9M1665.4 545.8h25.6M1665.4 606.2h25.6M1678.2 545.8V558M1678.2 594V606.2M1695.3 554.3h25.6M1695.3 586.4h25.6M1708.1 554.3V552.3M1708.1 588.3V586.4M1725.2 523.1h25.6M1725.2 559.7h25.6M1738 523.1V523.4M1738 559.4V559.7M1755.1 481.2h25.6M1755.1 547h25.6M1767.9 481.2V496.1M1767.9 532.1V547M1785 481h25.6M1785 525.2h25.6M1797.8 481V485.1M1797.8 521.1V525.2M1814.8 469h25.6M1814.8 505.6h25.6M1827.6 469V469.3M1827.6 505.3V505.6M1844.7 427.5h25.6M1844.7 514.1h25.6M1857.5 427.5V452.8M1857.5 488.8V514.1M1874.6 381.3h25.6M1874.6 483.7h25.6M1887.4 381.3V414.5M1887.4 450.5V483.7" stroke="#f0f" stroke-width="5.5"/>
</g>
<g stroke="#000" fill="none" stroke-linecap="round">
<path d="M244 54V1303M1937 54V1317" stroke-width="6" stroke-linecap="butt"/>
<path d="M216 53.5H1940" stroke-width="5" stroke-linecap="butt"/>
<path d="M219 1303H1940" stroke-width="6" stroke-linecap="butt"/>
<path d="M219 1303H244M231 1198.9H244M219 1094.8H244M231 990.7H244M219 886.6H244M231 782.5H244M219 678.4H244M231 574.3H244M219 470.2H244M231 366.1H244M219 262H244M231 157.9H244M219 53.8H244M244 1303V1327M343.6 1303V1315M443.2 1303V1327M542.8 1303V1315M642.4 1303V1327M742 1303V1315M841.6 1303V1327M941.2 1303V1315M1040.8 1303V1327M1140.4 1303V1315M1240 1303V1327M1339.6 1303V1315M1439.2 1303V1327M1538.8 1303V1315M1638.4 1303V1327M1738 1303V1315M1837.6 1303V1327M1937.2 1303V1315" stroke-width="6"/>
</g>
<text class="tk" transform="translate(201 1319.5) scale(.906 1)" text-anchor="end">0</text>
<text class="tk" transform="translate(201 1111.3) scale(.906 1)" text-anchor="end">10</text>
<text class="tk" transform="translate(201 903.1) scale(.906 1)" text-anchor="end">20</text>
<text class="tk" transform="translate(201 694.9) scale(.906 1)" text-anchor="end">30</text>
<text class="tk" transform="translate(201 486.7) scale(.906 1)" text-anchor="end">40</text>
<text class="tk" transform="translate(201 278.5) scale(.906 1)" text-anchor="end">50</text>
<text class="tk" transform="translate(201 70.3) scale(.906 1)" text-anchor="end">60</text>
<text class="tk" transform="translate(244 1389) scale(.906 1)" text-anchor="middle">0</text>
<text class="tk" transform="translate(443.2 1389) scale(.906 1)" text-anchor="middle">20</text>
<text class="tk" transform="translate(642.4 1389) scale(.906 1)" text-anchor="middle">40</text>
<text class="tk" transform="translate(841.6 1389) scale(.906 1)" text-anchor="middle">60</text>
<text class="tk" transform="translate(1040.8 1389) scale(.906 1)" text-anchor="middle">80</text>
<text class="tk" transform="translate(1240 1389) scale(.906 1)" text-anchor="middle">100</text>
<text class="tk" transform="translate(1439.2 1389) scale(.906 1)" text-anchor="middle">120</text>
<text class="tk" transform="translate(1638.4 1389) scale(.906 1)" text-anchor="middle">140</text>
<text class="tk" transform="translate(1837.6 1389) scale(.906 1)" text-anchor="middle">160</text>
<text class="ax" x="1092" y="1499" text-anchor="middle">Time (h)</text>
<text class="ax" transform="translate(93 725) rotate(-90) scale(.989 1)" text-anchor="middle">Phase Object Confluence (%)</text>
<path d="M554 205.9H703" stroke="#000" stroke-width="8" stroke-linecap="round" fill="none"/>
<path d="M616 194h25v25h-25z" fill="#000"/>
<text class="lg" transform="translate(722.6 228.5) scale(.966 1)">GZ0</text>
<path d="M554 290.95H703" stroke="#f00" stroke-width="8" stroke-linecap="round" fill="none"/>
<path d="M614.6 291a13.9 13.9 0 1 0 27.8 0a13.9 13.9 0 1 0 -27.8 0z" fill="#f00"/>
<text class="lg" transform="translate(722.6 313.1) scale(.966 1)">Control</text>
<path d="M554 375.55H703" stroke="#00f" stroke-width="7" stroke-linecap="round" fill="none"/>
<path d="M628 356.4L645.2 386.2L610.8 386.2z" fill="#00f"/>
<text class="lg" transform="translate(722.6 397.7) scale(.966 1)">GZ1</text>
<path d="M554 460.45H703" stroke="#f0f" stroke-width="7" stroke-linecap="round" fill="none"/>
<path d="M610.8 450.9L645.2 450.9L628 480.8z" fill="#f0f"/>
<text class="lg" transform="translate(722.6 482.5) scale(.966 1)">GZ2</text>
</svg></body></html>
